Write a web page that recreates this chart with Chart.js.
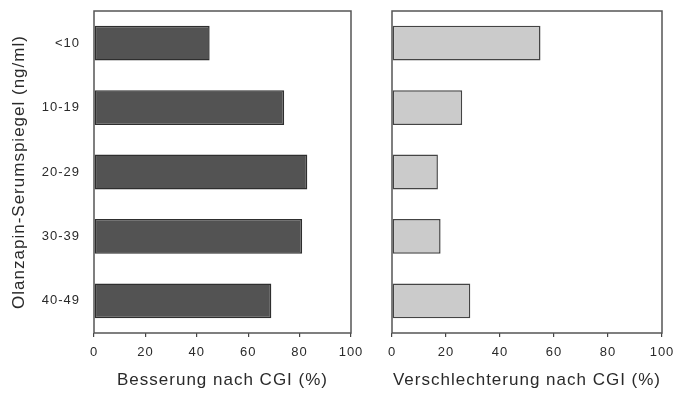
<!DOCTYPE html>
<html>
<head>
<meta charset="utf-8">
<script src="https://cdn.jsdelivr.net/npm/chart.js@4"></script>
<style>
    html, body { margin: 0; padding: 0; background: #fff; }
    #wrap { position: relative; width: 673px; height: 397px; }
    #wrap canvas { position: absolute; left: 0; top: 0; }
</style>
</head>
<body>
<div id="wrap">
    <canvas id="left" width="673" height="397"></canvas>
    <canvas id="right" width="673" height="397"></canvas>
</div>
<script>
// Serumspiegel-Klassen (ng/ml)
const categories = ['<10', '10-19', '20-29', '30-39', '40-49'];
// Besserung nach CGI (%)
const besserung = [45, 74, 83, 81, 69];
// Verschlechterung nach CGI (%)
const verschlechterung = [55, 26, 17, 18, 29];
const xTicks = [0, 20, 40, 60, 80, 100];

const FONT = '"Liberation Sans", Arial, sans-serif';
const TEXT = '#2a2a2a';

// etwas Laufweite wie im Original
const spacing = {
    id: 'spacing',
    beforeLayout(chart) { chart.ctx.letterSpacing = '1px'; },
    beforeDraw(chart) { chart.ctx.letterSpacing = '1px'; }
};

// Rahmen um die Plotfläche
const frame = {
    id: 'frame',
    afterDatasetsDraw(chart) {
        const a = chart.chartArea;
        const ctx = chart.ctx;
        ctx.save();
        ctx.strokeStyle = '#555';
        ctx.lineWidth = 1.5;
        ctx.strokeRect(a.left, a.top, a.right - a.left, a.bottom - a.top);
        ctx.restore();
    }
};

function makeChart(id, values, fill, border, pad, yWidth, showY) {
    return new Chart(document.getElementById(id), {
        type: 'bar',
        data: {
            labels: categories,
            datasets: [{
                data: values,
                backgroundColor: fill,
                borderColor: border,
                borderWidth: 1.5,
                borderSkipped: false,
                barPercentage: 0.54,
                categoryPercentage: 1
            }]
        },
        options: {
            indexAxis: 'y',
            responsive: false,
            animation: false,
            layout: { padding: pad },
            plugins: { legend: { display: false }, tooltip: { enabled: false } },
            scales: {
                x: {
                    min: 0,
                    max: 100,
                    afterBuildTicks: s => { s.ticks = xTicks.map(v => ({ value: v })); },
                    afterFit: s => { s.height = 64; s.paddingLeft = 0; s.paddingRight = 0; },
                    grid: { drawOnChartArea: false, drawTicks: true, tickLength: 4, color: '#444', lineWidth: 1.2 },
                    border: { display: false },
                    ticks: { color: TEXT, padding: 8, font: { family: FONT, size: 13 } },
                    title: {
                        display: true,
                        text: id === 'left' ? 'Besserung nach CGI (%)' : 'Verschlechterung nach CGI (%)',
                        color: TEXT,
                        font: { family: FONT, size: 17 },
                        padding: { top: 4, bottom: 6 }
                    }
                },
                y: {
                    afterFit: s => { s.width = yWidth; s.paddingTop = 0; s.paddingBottom = 0; },
                    grid: { display: false },
                    border: { display: false },
                    ticks: { display: showY, color: TEXT, padding: 6, font: { family: FONT, size: 13 } },
                    title: {
                        display: showY,
                        text: 'Olanzapin-Serumspiegel (ng/ml)',
                        color: TEXT,
                        font: { family: FONT, size: 17 },
                        padding: { top: 9, bottom: 0 }
                    }
                }
            }
        },
        plugins: [spacing, frame]
    });
}

makeChart('left', besserung, '#535353', '#2e2e2e', { top: 11, right: 322, left: 0, bottom: 0 }, 94, true);
makeChart('right', verschlechterung, '#cbcbcb', '#444', { top: 11, right: 11, left: 392, bottom: 0 }, 0, false);
</script>
</body>
</html>
